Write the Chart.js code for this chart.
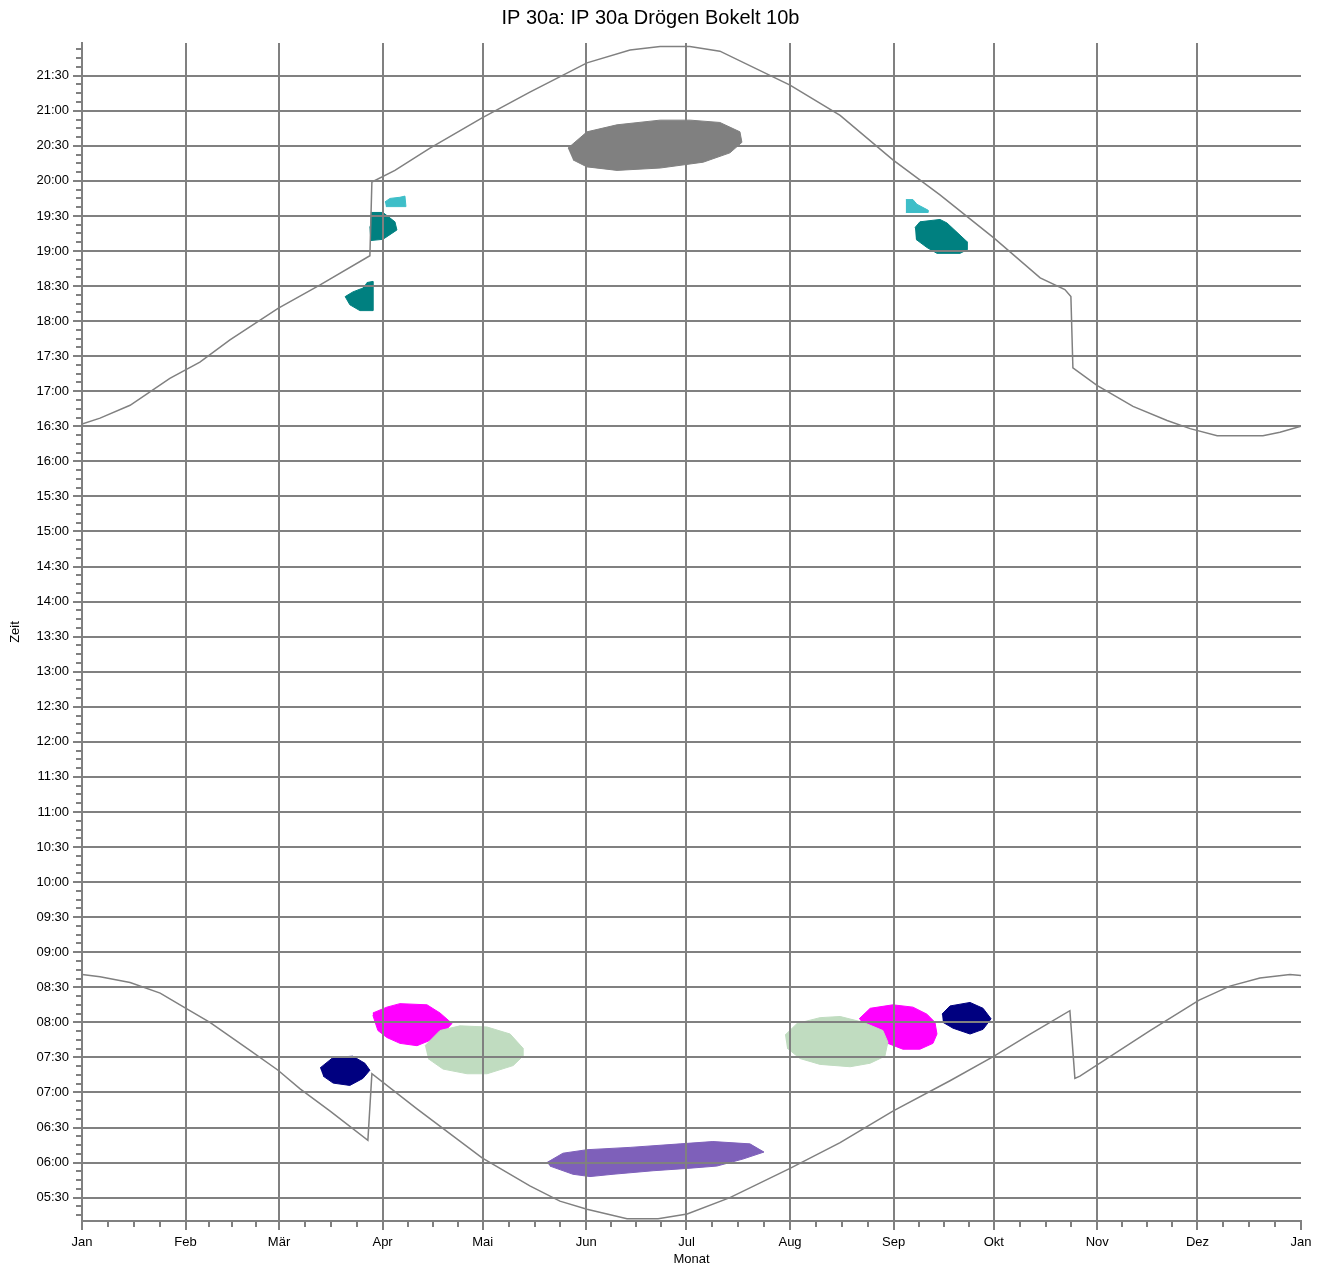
<!DOCTYPE html>
<html>
<head>
<meta charset="utf-8">
<script src="https://cdn.jsdelivr.net/npm/chart.js@4.4.1/dist/chart.umd.min.js"></script>
<style>
  html, body { margin: 0; padding: 0; background: #fff; }
  #wrap { width: 1330px; height: 1267px; }
</style>
</head>
<body>
<div id="wrap"><canvas id="chart" width="1330" height="1267"></canvas></div>
<script>
// x = day of year, y = minutes after midnight
const monthStarts = [0, 31, 59, 90, 120, 151, 181, 212, 243, 273, 304, 334, 365];
const monthNames = ['Jan', 'Feb', 'Mär', 'Apr', 'Mai', 'Jun', 'Jul', 'Aug', 'Sep', 'Okt', 'Nov', 'Dez', 'Jan'];

// astronomical limits (evening / morning), with the summer time jumps
const eveningDays = [0, 5.4, 14.4, 26.3, 35.3, 44.3, 58.7, 71.3, 86.2, 86.8, 93.7, 104.2, 119.8, 134.1, 151.2, 164.1, 173.1, 182, 191, 212, 227, 242.8, 256.9, 273.1, 286.9, 294.3, 296.1, 296.7, 303.9, 314.7, 324.9, 331.8, 339.9, 353.6, 358.7, 365];
const eveningTimes = [992, 997, 1008, 1031, 1045, 1064, 1091, 1111, 1136, 1199, 1209, 1228, 1254, 1276, 1301, 1312, 1315, 1315, 1311, 1282, 1256, 1218, 1188, 1151, 1117, 1107, 1101, 1040, 1025, 1007, 995, 988, 982, 982, 985, 990];
const morningDays = [0, 5.4, 14.4, 23.4, 30.5, 38.3, 50.3, 58.7, 65.3, 74.3, 85.6, 86.8, 100.3, 119.8, 134.1, 143.1, 151.2, 163.2, 172.5, 181.2, 194, 212, 227, 242.8, 259.9, 273.1, 283.9, 295.8, 297.3, 298.8, 319.8, 334.5, 343.7, 352.7, 361.7, 365];
const morningTimes = [521, 519, 514, 505, 493, 480, 456, 439, 423, 404, 379, 436, 406, 364, 340, 327, 320, 312, 312, 316, 330, 355, 377, 404, 430, 451, 470, 490, 432, 434, 473, 499, 511, 518, 521, 520];

// shadow areas, outline points
const grayDays = [145.5, 151.2, 160.2, 173.1, 182.1, 191, 197, 197.6, 194, 186, 173.1, 160.2, 151.2, 147];
const grayTimes = [1228, 1242, 1248, 1252, 1252, 1250, 1242, 1233, 1224, 1216, 1211, 1209, 1212, 1218];
const purpleDays = [139.2, 144, 151.2, 164.1, 179.1, 188.9, 200, 204.2, 197.9, 190.1, 181.2, 171, 159, 152.1, 147, 140.1];
const purpleTimes = [360, 368, 371, 373, 376, 378, 376, 369, 363, 357, 355, 353, 350, 348, 350, 357];
const springMagentaDays = [87.1, 88.6, 91.3, 95.2, 100.3, 107.2, 110.8, 107.2, 103.3, 95.2, 91.3, 87.1];
const springMagentaTimes = [486, 473, 467, 462, 460, 468, 479, 488, 495, 496, 493, 488];
const springGreenDays = [102.7, 107.2, 113.2, 121.3, 128.2, 132, 132, 129.1, 121.3, 115.3, 108.1, 103.6];
const springGreenTimes = [460, 473, 477, 476, 470, 458, 451, 443, 436, 436, 440, 449];
const springNavyDays = [71.3, 75.2, 81.1, 84.7, 86.2, 84.1, 80.2, 75.2, 72.2];
const springNavyTimes = [441, 450, 451, 445, 439, 432, 426, 428, 434];
const autumnGreenDays = [210.5, 214.1, 221, 227, 233.9, 239.8, 241.3, 240.4, 236, 230, 221, 215, 211.1];
const autumnGreenTimes = [469, 479, 484, 485, 480, 473, 463, 451, 445, 442, 444, 449, 458];
const autumnMagentaDays = [232.7, 236, 242.8, 248.8, 253, 255.4, 256, 254.8, 250.9, 245.8, 240.4, 235.3];
const autumnMagentaTimes = [483, 492, 495, 493, 487, 480, 470, 462, 457, 457, 463, 473];
const autumnNavyDays = [257.5, 259.9, 265.9, 269.8, 272.2, 269.8, 265.9, 260.8, 257.8];
const autumnNavyTimes = [487, 494, 497, 492, 483, 474, 470, 475, 480];
const springTealHighDays = [86.5, 90.1, 93.7, 94.3, 92.2, 90.1, 86.5, 86.2];
const springTealHighTimes = [1173, 1173, 1165, 1158, 1154, 1150, 1149, 1161];
const springCyanDays = [90.7, 92.2, 95.2, 96.7, 97, 91];
const springCyanTimes = [1182, 1185, 1186, 1187, 1178, 1178];
const springTealLowDays = [85.3, 87.1, 87.1, 83.2, 80.2, 78.8, 81.1, 83.8];
const springTealLowTimes = [1113, 1114, 1089, 1089, 1094, 1101, 1105, 1108];
const autumnCyanDays = [246.7, 248.8, 250, 253.3, 253.3, 246.7];
const autumnCyanTimes = [1184, 1184, 1180, 1175, 1173, 1173];
const autumnTealDays = [249.4, 250.9, 256.9, 259, 262, 265, 265, 262.9, 256, 253, 249.7];
const autumnTealTimes = [1160, 1165, 1167, 1164, 1156, 1148, 1141, 1138, 1138, 1143, 1150];

const gridColor = '#808080';

const toPoints = (days, times) => days.map((d, i) => ({ x: d, y: times[i] }));

const curve = (days, times) => ({
    data: toPoints(days, times),
    borderColor: gridColor,
    borderWidth: 1.5,
    pointRadius: 0,
    fill: false
});

const area = (days, times, color) => ({
    data: toPoints(days, times),
    borderColor: color,
    backgroundColor: color,
    borderWidth: 1,
    pointRadius: 0,
    fill: 'shape'
});

const isMonthStart = v => monthStarts.includes(v);
const pad2 = n => String(n).padStart(2, '0');

// small ticks between the labelled ones
const minorTicks = {
    id: 'minorTicks',
    afterDraw(chart) {
        const { ctx } = chart;
        const xs = chart.scales.x;
        const ys = chart.scales.y;
        ctx.save();
        ctx.strokeStyle = gridColor;
        ctx.lineWidth = 2;
        ctx.beginPath();
        xs.ticks.forEach(t => {
            if (isMonthStart(t.value)) return;
            const px = Math.round(xs.getPixelForValue(t.value));
            ctx.moveTo(px, xs.top);
            ctx.lineTo(px, xs.top + 6);
        });
        ys.ticks.forEach(t => {
            if (t.value % 30 === 0) return;
            const py = Math.round(ys.getPixelForValue(t.value));
            ctx.moveTo(ys.right, py);
            ctx.lineTo(ys.right - 6, py);
        });
        ctx.stroke();
        ctx.restore();
    }
};

Chart.defaults.font.family = "'Liberation Sans', Arial, sans-serif";
Chart.defaults.color = '#000';

new Chart('chart', {
    type: 'line',
    data: {
        datasets: [
            curve(eveningDays, eveningTimes),
            curve(morningDays, morningTimes),
            area(springGreenDays, springGreenTimes, '#C0DCC0'),
            area(springMagentaDays, springMagentaTimes, '#FF00FF'),
            area(springNavyDays, springNavyTimes, '#000080'),
            area(autumnGreenDays, autumnGreenTimes, '#C0DCC0'),
            area(autumnMagentaDays, autumnMagentaTimes, '#FF00FF'),
            area(autumnNavyDays, autumnNavyTimes, '#000080'),
            area(purpleDays, purpleTimes, '#7E60BA'),
            area(grayDays, grayTimes, '#808080'),
            area(springTealHighDays, springTealHighTimes, '#008080'),
            area(springCyanDays, springCyanTimes, '#3EBEC8'),
            area(springTealLowDays, springTealLowTimes, '#008080'),
            area(autumnCyanDays, autumnCyanTimes, '#3EBEC8'),
            area(autumnTealDays, autumnTealTimes, '#008080')
        ]
    },
    options: {
        responsive: false,
        animation: false,
        layout: { padding: { left: 0, right: 29, top: 0, bottom: 0 } },
        plugins: {
            legend: { display: false },
            tooltip: { enabled: false },
            title: {
                display: true,
                text: 'IP 30a: IP 30a Drögen Bokelt 10b',
                font: { size: 20, weight: 'normal' },
                color: '#000',
                padding: { top: 6, bottom: 13 }
            }
        },
        scales: {
            x: {
                type: 'linear',
                min: 0,
                max: 365,
                afterBuildTicks: scale => {
                    const ticks = [];
                    for (let m = 0; m < 12; m++) {
                        const a = monthStarts[m], len = monthStarts[m + 1] - a;
                        for (let k = 0; k < 4; k++) ticks.push({ value: a + len * k / 4 });
                    }
                    ticks.push({ value: 365 });
                    scale.ticks = ticks;
                },
                afterFit: scale => { scale.height = 46; },
                ticks: {
                    autoSkip: false,
                    maxRotation: 0,
                    padding: 5,
                    font: { size: 13 },
                    callback: v => isMonthStart(v) ? monthNames[monthStarts.indexOf(v)] : ''
                },
                grid: {
                    z: 1,
                    lineWidth: 2,
                    tickWidth: 2,
                    tickLength: 9,
                    color: c => (c.tick && isMonthStart(c.tick.value) && c.tick.value < 365) ? gridColor : 'rgba(0,0,0,0)',
                    tickColor: c => (c.tick && isMonthStart(c.tick.value)) ? gridColor : 'rgba(0,0,0,0)'
                },
                border: { z: 1, color: gridColor, width: 2 },
                title: {
                    display: true,
                    text: 'Monat',
                    font: { size: 13 },
                    padding: { top: 0, bottom: 0 }
                }
            },
            y: {
                type: 'linear',
                min: 310,
                max: 1318,
                afterBuildTicks: scale => {
                    const ticks = [];
                    for (let v = 315; v <= 1315; v += 7.5) ticks.push({ value: v });
                    scale.ticks = ticks;
                },
                afterFit: scale => { scale.width = 82; },
                ticks: {
                    autoSkip: false,
                    padding: 4,
                    font: { size: 13 },
                    callback: v => v % 30 === 0 ? pad2(Math.floor(v / 60)) + ':' + pad2(v % 60) : ''
                },
                grid: {
                    z: 1,
                    lineWidth: 2,
                    tickWidth: 2,
                    tickLength: 9,
                    color: c => (c.tick && c.tick.value % 30 === 0) ? gridColor : 'rgba(0,0,0,0)',
                    tickColor: c => (c.tick && c.tick.value % 30 === 0) ? gridColor : 'rgba(0,0,0,0)'
                },
                border: { z: 1, color: gridColor, width: 2 },
                title: {
                    display: true,
                    text: 'Zeit',
                    font: { size: 13 },
                    padding: { top: 8, bottom: 0 }
                }
            }
        }
    },
    plugins: [minorTicks]
});
</script>
</body>
</html>
